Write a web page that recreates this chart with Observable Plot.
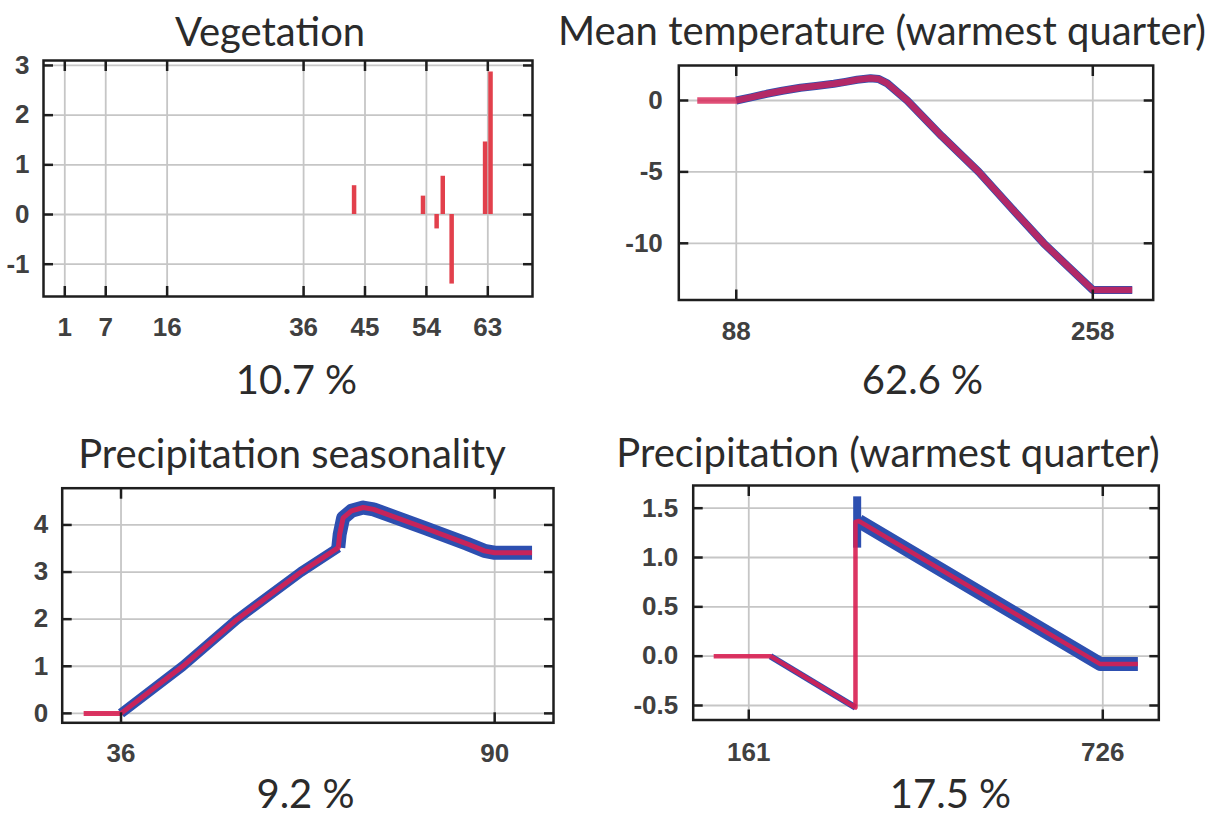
<!DOCTYPE html>
<html><head><meta charset="utf-8">
<script src="https://cdn.jsdelivr.net/npm/d3@7"></script>
<script src="https://cdn.jsdelivr.net/npm/@observablehq/plot@0.6"></script>
<style>
html,body{margin:0;padding:0;background:#fff;}
#root{position:relative;width:1206px;height:816px;overflow:hidden;background:#fff;}
.panel{position:absolute;}
</style></head><body><div id="root"></div>
<script>
// ---------- DATA ----------
// Vegetation (spikes)
const vegTicksX = [1, 7, 16, 36, 45, 54, 63];
const vegTicksY = [3, 2, 1, 0, -1];
const vegTickLabelsY = ["3", "2", "1", "0", "-1"];
const vegX = [43.4, 53.5, 55.5, 56.4, 57.7, 62.6, 63.4];
const vegY = [0.58, 0.37, -0.29, 0.77, -1.40, 1.46, 2.87];

// Mean temperature (warmest quarter)
const tempTicksX = [88, 258];
const tempTicksY = [0, -5, -10];
const tempTickLabelsY = ["0", "-5", "-10"];
const tempX = [69.4, 88, 95, 102.5, 110, 118.6, 126, 134.5, 140, 145.6, 152, 156, 160, 169.5, 186, 203.6, 219, 234.6, 246, 258, 276.8];
const tempY = [0, 0, 0.22, 0.47, 0.68, 0.89, 1.02, 1.17, 1.3, 1.45, 1.56, 1.5, 1.2, 0, -2.5, -5, -7.5, -10, -11.6, -13.27, -13.27];

// Precipitation seasonality
const seasTicksX = [36, 90];
const seasTicksY = [0, 1, 2, 3, 4];
const seasTickLabelsY = ["0", "1", "2", "3", "4"];
const seasX = [30.6, 36, 44.9, 52.8, 62, 67.4, 67.6, 68.1, 69.3, 71, 72.5, 80, 86, 88.5, 90, 95.4];
const seasY = [0, 0, 1, 2, 3, 3.52, 3.8, 4.15, 4.3, 4.37, 4.33, 3.93, 3.6, 3.45, 3.41, 3.41];

// Precipitation (warmest quarter)
const pwTicksX = [161, 726];
const pwTicksY = [1.5, 1.0, 0.5, 0.0, -0.5];
const pwTickLabelsY = ["1.5", "1.0", "0.5", "0.0", "-0.5"];
const pwX = [105, 195.6, 331.3, 331.3, 336.6, 722, 782];
const pwY = [0, 0, -0.52, 1.36, 1.37, -0.08, -0.08];
const pwJumpX = [334, 334];
const pwJumpY = [1.10, 1.62];

const titles = ["Vegetation", "Mean temperature (warmest quarter)", "Precipitation seasonality", "Precipitation (warmest quarter)"];
const percents = ["10.7 %", "62.6 %", "9.2 %", "17.5 %"];

// ---------- STYLE ----------
const RED = "#d81f52", BLUE = "#2d4fb0", SPIKE = "#e2404c";
const GRID = "#c6c6c6", INK = "#1e1e1e", LABEL = "#404040";
const TITLE_FONT = "Lato", TICK_FONT = "Liberation Sans";
const TICK_SIZE = 26;

const zip = (xs, ys) => xs.map((x, i) => ({x, y: ys[i]}));
const root = document.getElementById("root");

function panel(cfg) {
  const mL = cfg.frame[0] - cfg.left, mR = cfg.left + cfg.width - cfg.frame[1];
  const mT = cfg.frame[2] - cfg.top, mB = cfg.top + cfg.height - cfg.frame[3];
  const fmtY = d => cfg.labelsY[cfg.ticksY.indexOf(d)];
  const txt = (s, cx, base, size) => Plot.text([s], {
    text: d => d, frameAnchor: "top-left",
    dx: cx - (cfg.left + mL), dy: base - (cfg.top + mT),
    textAnchor: "middle", lineAnchor: "bottom",
    fontSize: size, fontFamily: TITLE_FONT, fill: "#2b2b2b"
  });
  const tickOpts = {tickFormat: () => "", label: null, tickSize: 10, strokeWidth: 2.5, stroke: INK};
  const chart = Plot.plot({
    width: cfg.width, height: cfg.height,
    marginLeft: mL, marginRight: mR, marginTop: mT, marginBottom: mB,
    x: {domain: cfg.xDomain}, y: {domain: cfg.yDomain},
    style: {fontFamily: TICK_FONT, background: "transparent", overflow: "visible"},
    marks: [
      Plot.gridX(cfg.ticksX, {stroke: GRID, strokeOpacity: 1, strokeWidth: 1.8}),
      Plot.gridY(cfg.ticksY, {stroke: GRID, strokeOpacity: 1, strokeWidth: 1.8}),
      ...cfg.marks,
      Plot.frame({stroke: INK, strokeWidth: 2.5}),
      Plot.axisX({...tickOpts, anchor: "top", ticks: cfg.ticksX, dy: 10}),
      Plot.axisX({...tickOpts, anchor: "bottom", ticks: cfg.ticksX, dy: -10}),
      Plot.axisY({...tickOpts, anchor: "left", ticks: cfg.ticksY, dx: 10}),
      Plot.axisY({...tickOpts, anchor: "right", ticks: cfg.ticksY, dx: -10}),
      Plot.axisX({anchor: "bottom", ticks: cfg.ticksX, tickSize: 0, tickPadding: cfg.padX, label: null,
        fontSize: TICK_SIZE, fontWeight: "bold", fill: LABEL, tickFormat: d => String(d)}),
      Plot.axisY({anchor: "left", ticks: cfg.ticksY, tickSize: 0, tickPadding: cfg.padY, label: null,
        fontSize: TICK_SIZE, fontWeight: "bold", fill: LABEL, tickFormat: fmtY}),
      txt(cfg.title, cfg.titlePos[0], cfg.titlePos[1], 40),
      txt(cfg.pct, cfg.pctPos[0], cfg.pctPos[1], 40)
    ]
  });
  chart.classList.add("panel");
  chart.style.left = cfg.left + "px";
  chart.style.top = cfg.top + "px";
  root.appendChild(chart);
}

const lineOpts = (stroke, w, extra = {}) => ({x: "x", y: "y", stroke, strokeWidth: w, strokeLinecap: "butt", strokeLinejoin: "round", ...extra});

// Panel 1 – Vegetation
panel({
  left: 0, top: 0, width: 600, height: 420,
  frame: [43, 532, 60, 296],
  xDomain: [-2.12, 69.55], yDomain: [-1.65, 3.10],
  ticksX: vegTicksX, ticksY: vegTicksY, labelsY: vegTickLabelsY,
  padX: 21, padY: 14,
  title: titles[0], titlePos: [269.5, 45],
  pct: percents[0], pctPos: [296, 393],
  marks: [
    Plot.ruleX(zip(vegX, vegY), {x: "x", y1: 0, y2: "y", stroke: SPIKE, strokeWidth: 4.5})
  ]
});

// Panel 2 – Mean temperature
const tempData = zip(tempX, tempY);
panel({
  left: 600, top: 0, width: 606, height: 420,
  frame: [678.3, 1152.7, 65, 299.5],
  xDomain: [60.6, 286.8], yDomain: [-13.97, 2.45],
  ticksX: tempTicksX, ticksY: tempTicksY, labelsY: tempTickLabelsY,
  padX: 22, padY: 16,
  title: titles[1], titlePos: [881.5, 44],
  pct: percents[1], pctPos: [922, 393],
  marks: [
    Plot.line(tempData.filter(d => d.x >= 88), lineOpts(BLUE, 8)),
    Plot.line(tempData, lineOpts(RED, 6.5, {strokeOpacity: 0.78}))
  ]
});

// Panel 3 – Precipitation seasonality
const seasData = zip(seasX, seasY);
panel({
  left: 0, top: 420, width: 600, height: 396,
  frame: [61.7, 553, 487.7, 722.3],
  xDomain: [27.5, 98.5], yDomain: [-0.20, 4.78],
  ticksX: seasTicksX, ticksY: seasTicksY, labelsY: seasTickLabelsY,
  padX: 21, padY: 14,
  title: titles[2], titlePos: [291.5, 467],
  pct: percents[2], pctPos: [305, 807],
  marks: [
    Plot.line(seasData.filter(d => d.x >= 36 && d.x <= 67.4), lineOpts(BLUE, 10)),
    Plot.line(seasData.filter(d => d.x >= 67.4), lineOpts(BLUE, 14)),
    Plot.line(seasData, lineOpts(RED, 5, {strokeOpacity: 0.9}))
  ]
});

// Panel 4 – Precipitation (warmest quarter)
const pwData = zip(pwX, pwY);
panel({
  left: 600, top: 420, width: 606, height: 396,
  frame: [692.7, 1158.3, 485, 719.5],
  xDomain: [72.3, 815.4], yDomain: [-0.647, 1.73],
  ticksX: pwTicksX, ticksY: pwTicksY, labelsY: pwTickLabelsY,
  padX: 22.5, padY: 15,
  title: titles[3], titlePos: [887.5, 466],
  pct: percents[3], pctPos: [950, 807],
  marks: [
    Plot.line(pwData.filter((d, i) => i >= 1 && i <= 2), lineOpts(BLUE, 6.5)),
    Plot.line(zip(pwJumpX, pwJumpY), lineOpts(BLUE, 8)),
    Plot.line(pwData.filter((d, i) => i >= 4), lineOpts(BLUE, 14)),
    Plot.line(pwData, lineOpts(RED, 4.5, {strokeOpacity: 0.9}))
  ]
});
</script></body></html>
